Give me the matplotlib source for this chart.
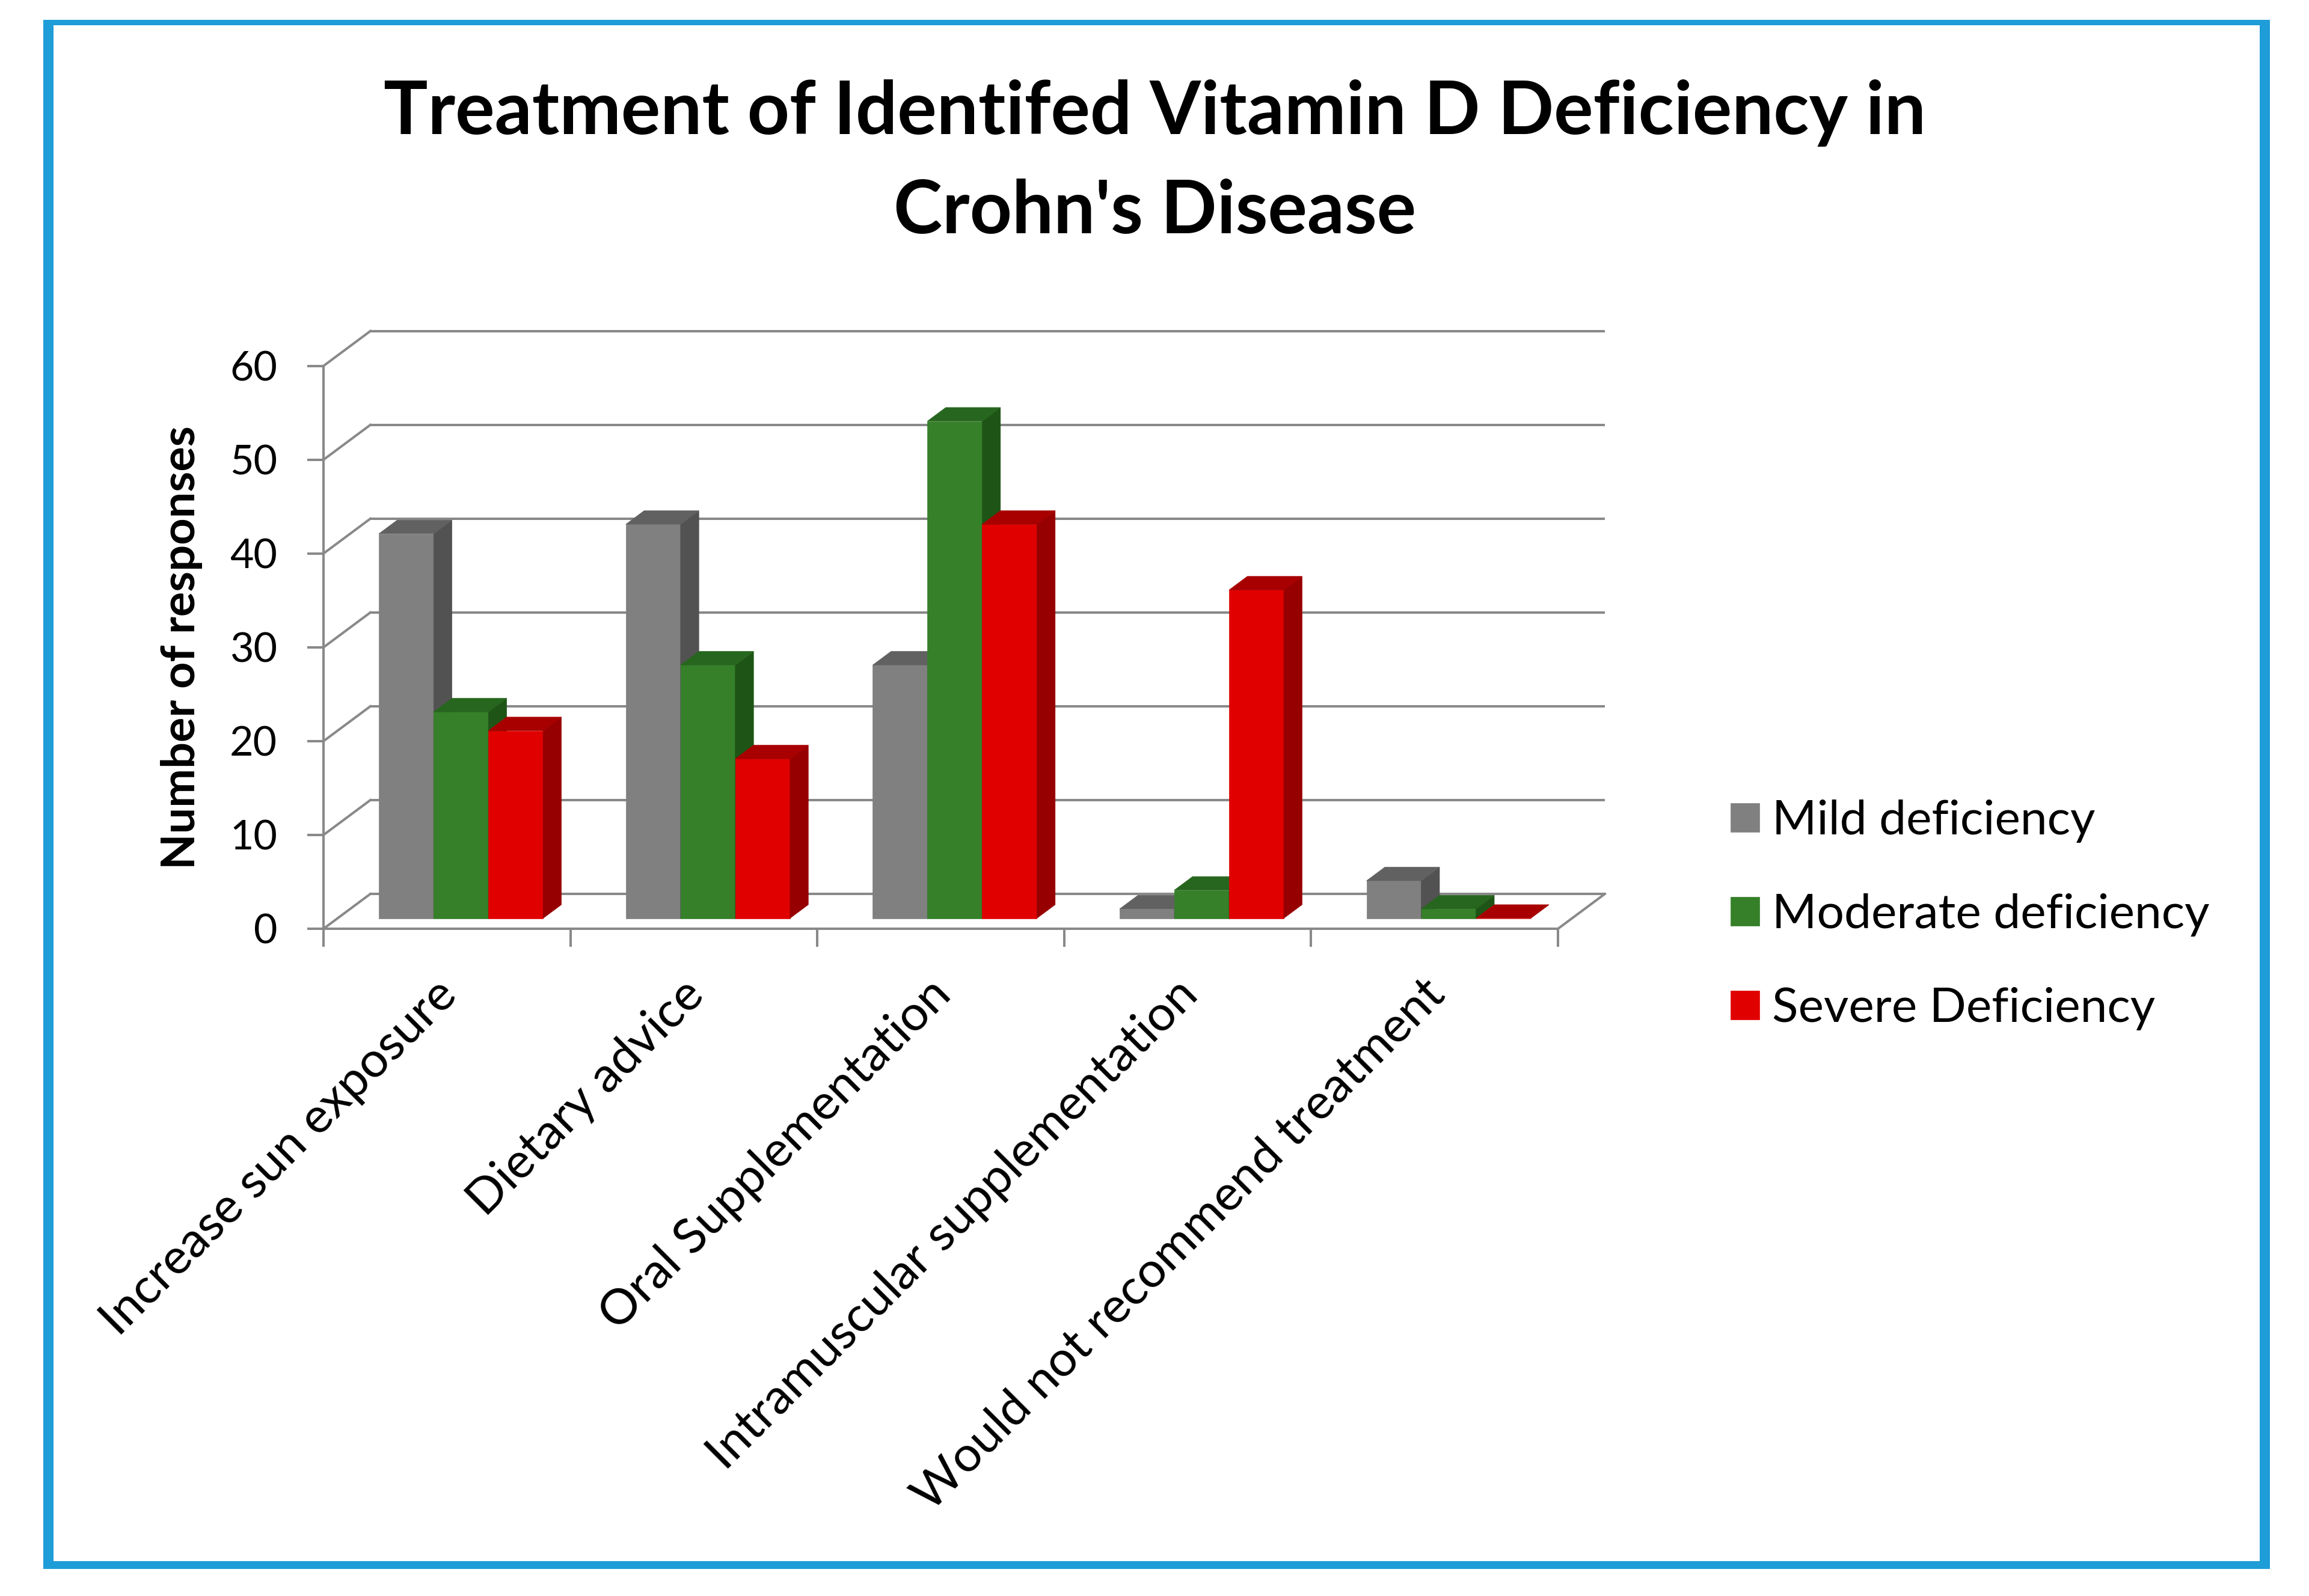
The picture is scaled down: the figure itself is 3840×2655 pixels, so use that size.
import matplotlib
matplotlib.use("Agg")
import matplotlib.pyplot as plt
from matplotlib.patches import Polygon, Rectangle
from matplotlib.font_manager import FontProperties
from matplotlib.transforms import ScaledTranslation

# ---------------- data ----------------
categories = ["Increase sun exposure", "Dietary advice", "Oral Supplementation",
              "Intramuscular supplementation", "Would not recommend treatment"]
series_names = ["Mild deficiency", "Moderate deficiency", "Severe Deficiency"]
mild = [41, 42, 27, 1, 4]
moderate = [22, 27, 53, 3, 1]
severe = [20, 17, 42, 35, 0]
y_ticks = [0, 10, 20, 30, 40, 50, 60]
title_text = "Treatment of Identifed Vitamin D Deficiency in\nCrohn's Disease"
y_label = "Number of responses"

# ---------------- style ----------------
plt.rcParams['font.family'] = ['Lato', 'DejaVu Sans']
W, H, DPI = 3841, 2655, 100
PX = DPI / 72.0
GRID = '#898989'
LW = 2.9
BLUE = '#1E9DD8'
face_colors = [('#808080', '#525252', '#616161'),
               ('#358029', '#1E5516', '#27661E'),
               ('#E00000', '#970000', '#A80000')]

fig = plt.figure(figsize=(W / DPI, H / DPI), dpi=DPI)
fig.patch.set_facecolor('white')
renderer = fig.canvas.get_renderer()


def fx(x):
    return x / W


def fy(y):
    return 1 - y / H


def metrics(text, size, weight='normal'):
    fp = FontProperties(family='Lato', weight=weight, size=size)
    return renderer.get_text_width_height_descent(text, fp, ismath=False)


def fit(text, target_px, weight='normal'):
    w, _, _ = metrics(text, 100, weight)
    return 100.0 * target_px / w


# ---------------- axes (front plane) ----------------
x0p, x1p, y0p, y1p = 538, 2591, 1545, 608.7
ax = fig.add_axes([fx(x0p), fy(y0p), fx(x1p) - fx(x0p), fy(y1p) - fy(y0p)])
n = len(categories)
ax.set_xlim(0, n)
ax.set_ylim(y_ticks[0], y_ticks[-1])
ax.set_facecolor('none')

cat_px = (x1p - x0p) / n
val_px = (y0p - y1p) / (y_ticks[-1] - y_ticks[0])
DX = 78 / cat_px      # depth offset in category units
DY = 58 / val_px      # depth offset in value units

# back wall gridlines and side wall diagonals
for v in y_ticks:
    ax.plot([DX, n + DX], [v + DY, v + DY], color=GRID, lw=LW, clip_on=False,
            zorder=1, solid_capstyle='butt')
    ax.plot([0, DX], [v, v + DY], color=GRID, lw=LW, clip_on=False, zorder=1)
ax.plot([n, n + DX], [0, DY], color=GRID, lw=LW, clip_on=False, zorder=1)

# ---------------- 3D bars ----------------
BW = 91 / cat_px
F0, F1 = 0.30, 0.69
ox, oy = F0 * DX, F0 * DY
bdx, bdy = (F1 - F0) * DX, (F1 - F0) * DY

containers = []
for j, (vals, name, (cf, cs, ct)) in enumerate(zip([mild, moderate, severe],
                                                     series_names, face_colors)):
    xs = [i + 0.5 + (j - 1) * BW + ox for i in range(n)]
    bc = ax.bar(xs, vals, width=BW, bottom=oy, color=cf, edgecolor=cf, lw=0.5,
                label=name, zorder=3 + j, clip_on=False)
    containers.append(bc)
    for x, v in zip(xs, vals):
        xl, xr = x - BW / 2, x + BW / 2
        yb, yt = oy, oy + v
        ax.add_patch(Polygon([(xr, yb), (xr + bdx, yb + bdy), (xr + bdx, yt + bdy), (xr, yt)],
                             closed=True, facecolor=cs, edgecolor=cs, lw=0.5,
                             zorder=3 + j, clip_on=False))
        ax.add_patch(Polygon([(xl, yt), (xl + bdx, yt + bdy), (xr + bdx, yt + bdy), (xr, yt)],
                             closed=True, facecolor=ct, edgecolor=ct, lw=0.5,
                             zorder=3 + j, clip_on=False))

# ---------------- spines and ticks ----------------
for s in ['top', 'right']:
    ax.spines[s].set_visible(False)
for s in ['left', 'bottom']:
    ax.spines[s].set_color(GRID)
    ax.spines[s].set_linewidth(LW)
    ax.spines[s].set_zorder(2)

tick_fs = fit("50", 79)
ax.set_yticks(y_ticks)
ax.tick_params(axis='y', length=27 / PX, width=LW, color=GRID, pad=50 / PX,
               labelsize=tick_fs, labelcolor='black')

ax.set_xticks(range(n + 1), [''] * (n + 1))
ax.tick_params(axis='x', which='major', length=30 / PX, width=LW, color=GRID)
cat_fs = fit("Would not recommend treatment", 1215)
ax.set_xticks([i + 0.5 for i in range(n)], categories, minor=True,
              rotation=45, ha='right', va='top', rotation_mode='anchor',
              fontsize=cat_fs)
ax.tick_params(axis='x', which='minor', length=0, pad=71 / PX)
shift = ScaledTranslation(-22 / DPI, 0, fig.dpi_scale_trans)
for lbl in ax.get_xticklabels(minor=True):
    lbl.set_transform(lbl.get_transform() + shift)

# y label
ylab_fs = fit(y_label, 738, 'bold')
ax.set_ylabel(y_label, fontsize=ylab_fs, fontweight='bold')
ax.yaxis.set_label_coords((337 - x0p) / (x1p - x0p), 0.5)

# ---------------- legend ----------------
leg_fs = fit("Moderate deficiency", 727)
E = leg_fs * PX
_, lp_h, lp_d = metrics("lp", leg_fs)
_, t_h, t_d = metrics("Mild deficiency", leg_fs)
row_h = max(lp_h, t_h)
asc = max(lp_h - lp_d, t_h - t_d)
hh = (48 / E - 0.245) / 0.65
ax.legend(handles=containers, labels=series_names, loc='upper left',
          bbox_to_anchor=(fx(2878), fy(1388 - asc)), bbox_transform=fig.transFigure,
          frameon=False, borderpad=0, borderaxespad=0, fontsize=leg_fs,
          handlelength=48 / E, handleheight=hh, handletextpad=21 / E,
          labelspacing=(156 - row_h) / E)

# ---------------- title ----------------
title_fs = fit(title_text.split("\n")[0], 2562, 'bold')
_, tlp_h, tlp_d = metrics("lp", title_fs, 'bold')
_, h1, d1 = metrics(title_text.split("\n")[0], title_fs, 'bold')
_, h2, d2 = metrics(title_text.split("\n")[1], title_fs, 'bold')
h1, d1 = max(h1, tlp_h), max(d1, tlp_d)
h2, d2 = max(h2, tlp_h), max(d2, tlp_d)
ls = (165 - d1) / max(tlp_h - tlp_d, h2 - d2)
fig.text(0.5, fy(223 - (h1 - d1)), title_text, ha='center', va='top',
         multialignment='center', fontsize=title_fs, fontweight='bold',
         linespacing=ls)

# ---------------- outer blue frame ----------------
for (a0, b0, a1, b1) in [(72, 33, 89, 2610), (3758, 33, 3775, 2610),
                         (72, 33, 3775, 42), (72, 2597, 3775, 2610)]:
    fig.add_artist(Rectangle((fx(a0), fy(b1)), fx(a1) - fx(a0), fy(b0) - fy(b1),
                             transform=fig.transFigure, facecolor=BLUE, lw=0))

fig.savefig('out.png', dpi=DPI)
